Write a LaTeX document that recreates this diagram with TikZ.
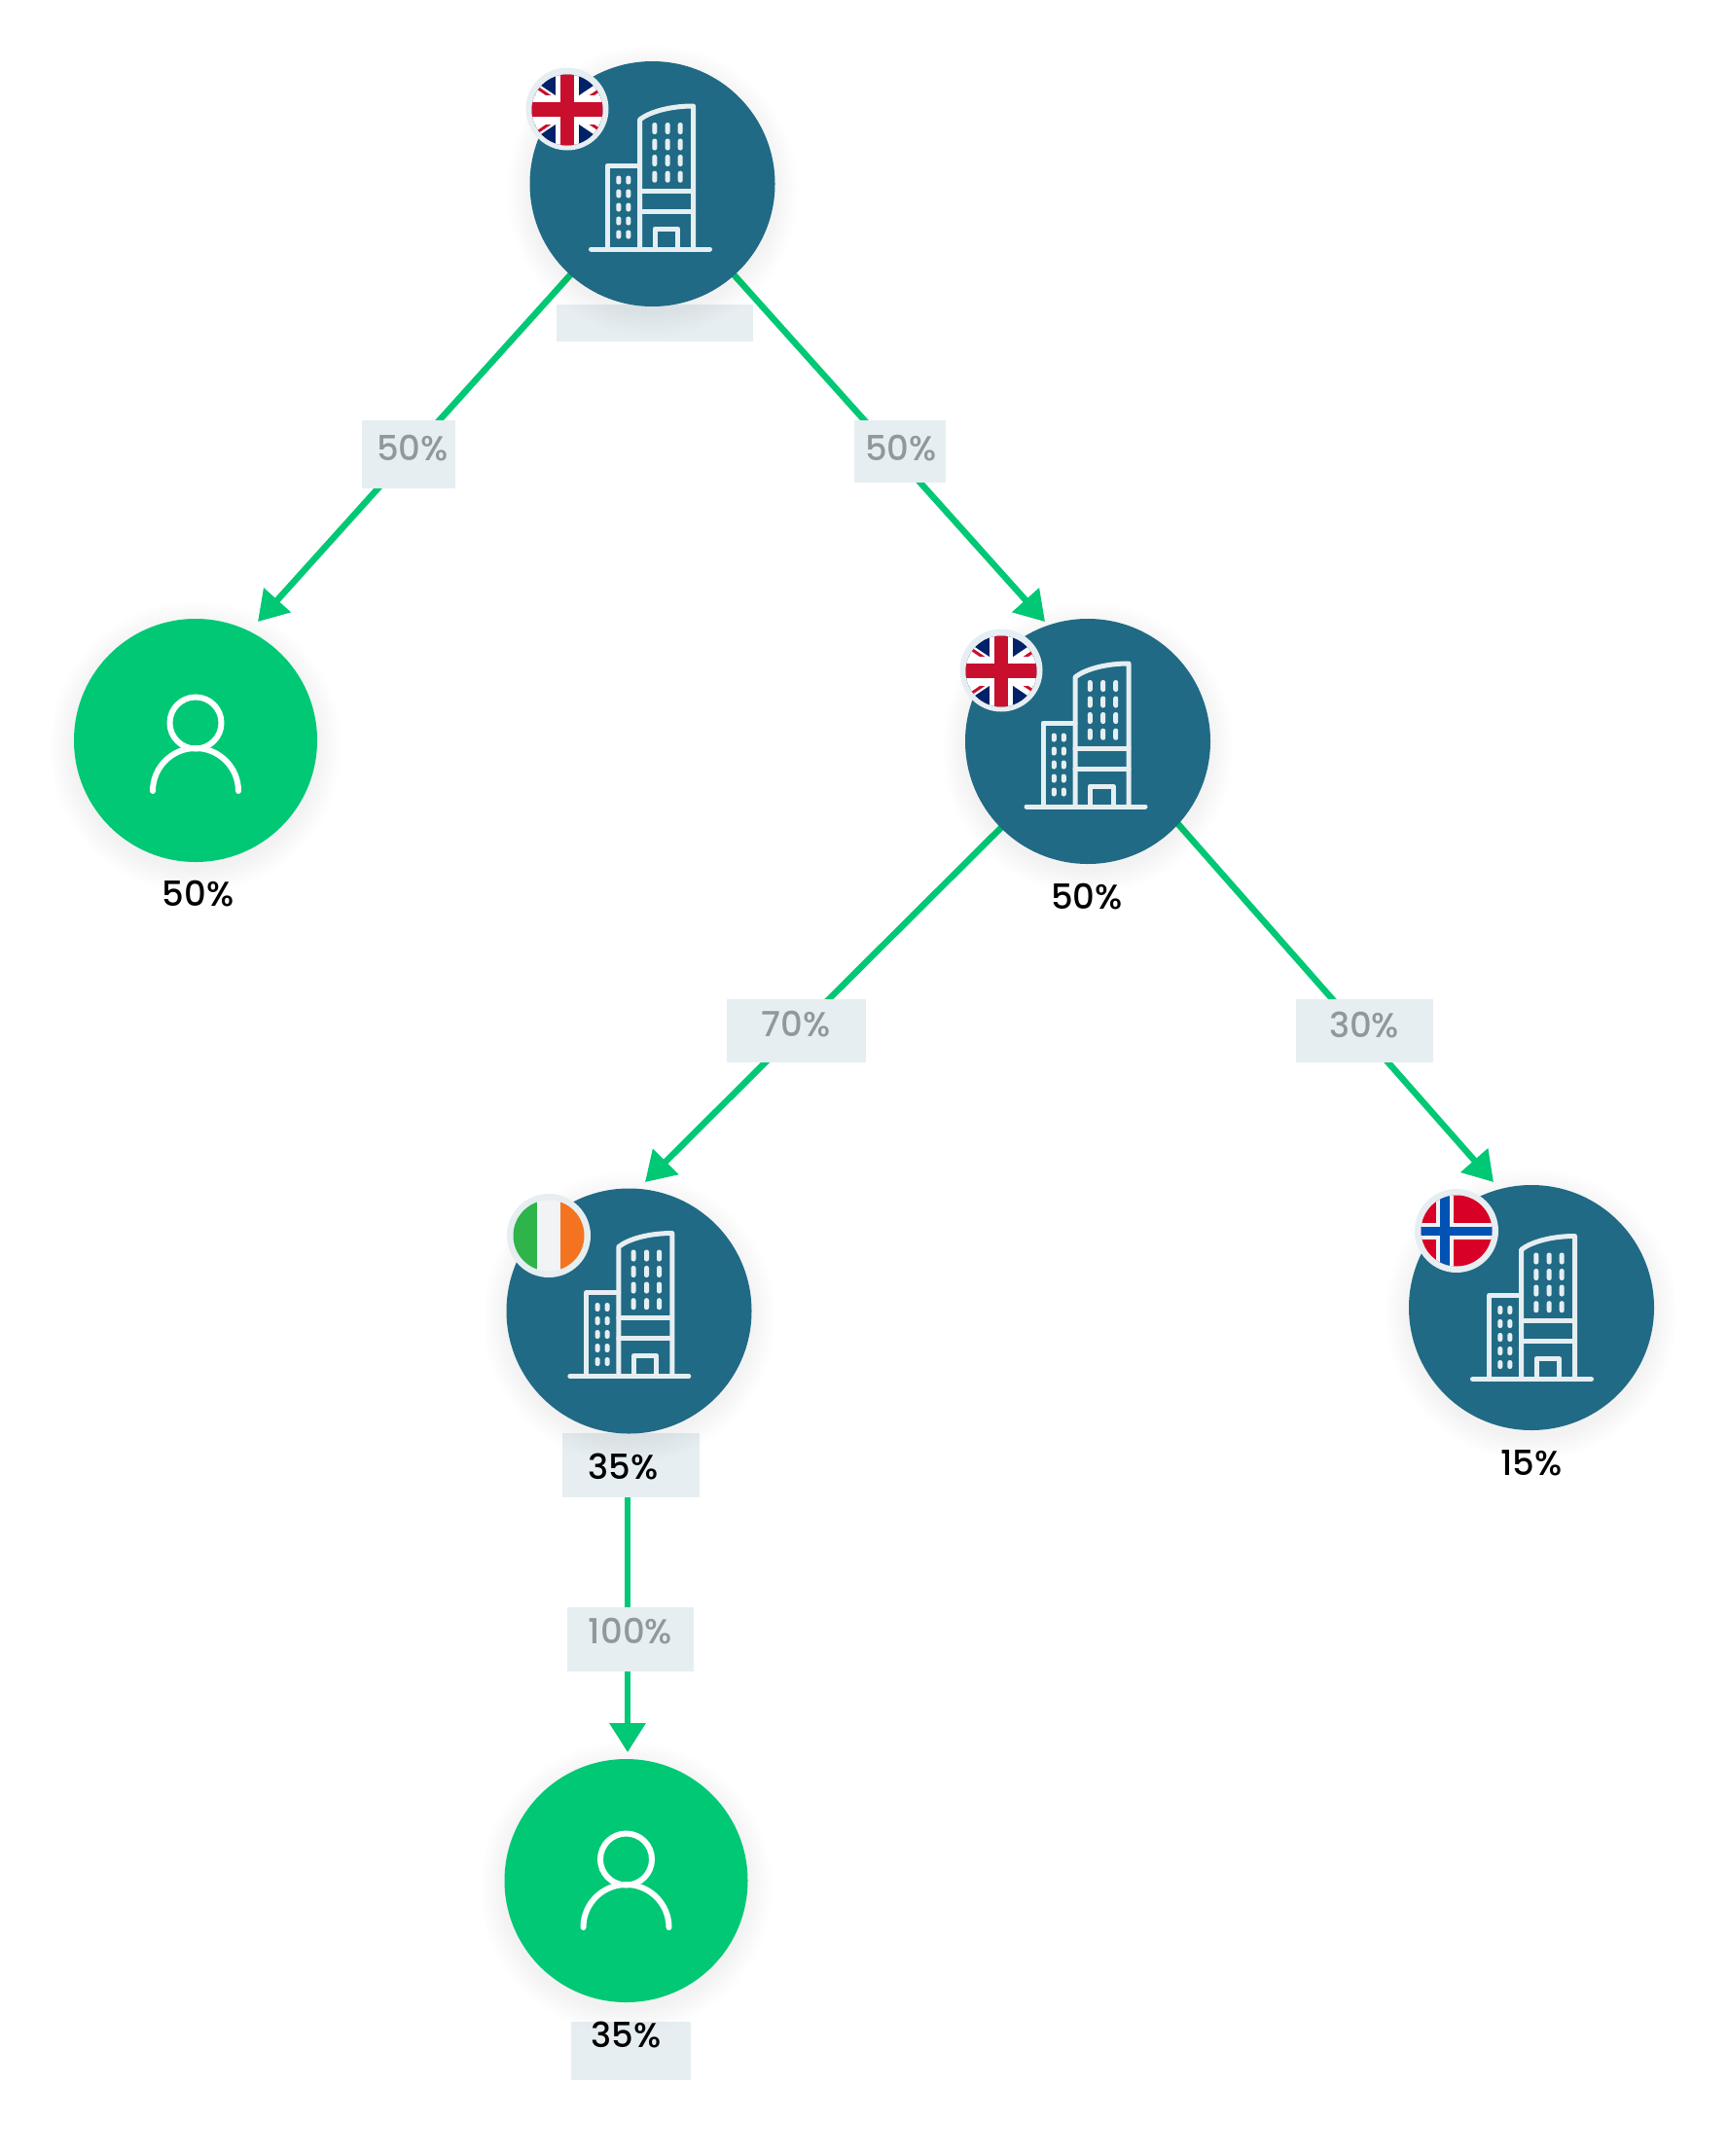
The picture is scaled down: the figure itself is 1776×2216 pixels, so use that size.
\documentclass[tikz,border=0pt]{standalone}
\usepackage{fontspec}
\setmainfont{Poppins}[UprightFont=* Medium]
\usetikzlibrary{arrows.meta}
\definecolor{teal}{HTML}{206A85}
\definecolor{lime}{HTML}{00C875}
\definecolor{pale}{HTML}{E6EEF1}
\definecolor{greytext}{HTML}{8F999D}
\definecolor{ukblue}{HTML}{012169}
\definecolor{ukred}{HTML}{C8102E}
\definecolor{irgreen}{HTML}{2FB44B}
\definecolor{irwhite}{HTML}{F1F3F5}
\definecolor{irorange}{HTML}{F47321}
\definecolor{nored}{HTML}{D80027}
\definecolor{noblue}{HTML}{0052B4}
\pgfdeclarelayer{paper}
\pgfdeclarelayer{conn}
\pgfdeclarelayer{boxes}
\pgfdeclarelayer{shade}
\pgfsetlayers{paper,conn,boxes,shade,main}
\tikzset{
  building/.style={circle,fill=teal,minimum size=252pt,inner sep=0pt},
  owner/.style={circle,fill=lime,minimum size=250pt,inner sep=0pt},
  link/.style={draw=lime,line width=6.5pt,-{Triangle[length=30pt,width=36pt]}},
  labelbox/.style={fill=pale,inner sep=0pt},
  edgetext/.style={text=greytext,font=\fontsize{35.5}{36}\selectfont,inner sep=0pt},
  sharetext/.style={text=black,font=\fontsize{35.5}{36}\selectfont,inner sep=0pt},
  sketch/.style={draw=pale,line width=5pt,line cap=round,line join=round},
  win/.style={fill=pale,rounded corners=2.3pt},
  pics/softshadow/.style={code={
    \foreach \r in {126,128,...,150}{\fill[black,opacity=0.005] (0,7) circle[radius=\r];}
  }},
  pics/tower/.style={code={
    \draw[sketch] (-63,67) -- (59,67);
    \draw[sketch] (-46,67) -- (-46,-19) -- (-13,-19);
    \draw[sketch] (-13,67) -- (-13,-66) .. controls (-3,-74) and (18,-80) .. (42,-80) -- (42,67);
    \draw[sketch] (-13,7) -- (42,7) (-13,28) -- (42,28);
    \draw[sketch] (2.5,67) -- (2.5,46) -- (26,46) -- (26,67);
    \foreach \x in {2.3,15.7,28.7}\foreach \y in {-57,-40.5,-24,-7.3}
      {\fill[win] (\x-2.5,\y-6) rectangle (\x+2.5,\y+6);}
    \foreach \x in {-34.7,-24.7}\foreach \y in {-4,10,24,38,52}
      {\fill[win] (\x-2.5,\y-4.5) rectangle (\x+2.5,\y+4.5);}
  }},
  pics/person/.style={code={
    \draw[white,line width=6pt] (0,-18) circle[radius=26.5];
    \draw[white,line width=6pt,line cap=round] (-44,52) arc[start angle=180,end angle=360,radius=44];
  }},
  pics/ukflag/.style={code={
    \fill[pale] (0,0) circle[radius=42.5];
    \begin{scope}
      \clip (0,1) circle[radius=36.5];
      \fill[ukblue] (-40,-40) rectangle (40,40);
      \draw[white,line width=11pt] (-40,-26) -- (40,28) (-40,28) -- (40,-26);
      \draw[ukred,line width=3pt] (-40,-28) -- (40,26) (-40,30) -- (40,-24);
      \fill[white] (-12,-40) rectangle (12,40);
      \fill[white] (-40,-14) rectangle (40,16);
      \fill[ukred] (-7,-40) rectangle (7,40);
      \fill[ukred] (-40,-7) rectangle (40,8);
    \end{scope}
  }},
  pics/ieflag/.style={code={
    \fill[pale] (0,0) circle[radius=43];
    \begin{scope}
      \clip (0,0) circle[radius=36.5];
      \fill[irgreen] (-40,-40) rectangle (-11.7,40);
      \fill[irwhite] (-11.7,-40) rectangle (12,40);
      \fill[irorange] (12,-40) rectangle (40,40);
    \end{scope}
  }},
  pics/noflag/.style={code={
    \fill[pale] (0,0) circle[radius=43];
    \begin{scope}
      \clip (0,0) circle[radius=36.5];
      \fill[nored] (-40,-40) rectangle (40,40);
      \fill[irwhite] (-20.7,-40) rectangle (-3,40);
      \fill[irwhite] (-40,-7.7) rectangle (40,9);
      \fill[noblue] (-16.7,-40) rectangle (-7,40);
      \fill[noblue] (-40,-4.3) rectangle (40,5);
    \end{scope}
  }}
}
\begin{document}
\begin{tikzpicture}[x=1pt,y=-1pt]
\useasboundingbox (0,0) rectangle (1776,2216);
\begin{pgfonlayer}{paper}
  \fill[white] (0,0) rectangle (1776,2216);
\end{pgfonlayer}

% entities
\node[building] (hq) at (670.5,189) {};
\node[owner] (ownerA) at (201,761) {};
\node[building] (sub) at (1118,762) {};
\node[building] (ie) at (646.5,1347.5) {};
\node[building] (no) at (1574,1344) {};
\node[owner] (ownerB) at (643.5,1933) {};

% shadows
\begin{pgfonlayer}{shade}
  \pic at (hq) {softshadow};
  \pic at (ownerA) {softshadow};
  \pic at (sub) {softshadow};
  \pic at (ie) {softshadow};
  \pic at (no) {softshadow};
  \pic at (ownerB) {softshadow};
\end{pgfonlayer}

% icons
\pic at (hq) {tower};
\pic at (sub) {tower};
\pic at ([xshift=2.3pt]ie.center) {tower};
\pic at ([xshift=2.5pt,yshift=-6.5pt]no.center) {tower};
\pic at (ownerA) {person};
\pic at ([yshift=4pt]ownerB.center) {person};

% flags
\pic at (583,112) {ukflag};
\pic at (1029,689) {ukflag};
\pic at (564,1270) {ieflag};
\pic at (1497,1265) {noflag};

% arrow tips
\coordinate (tipA) at (265,639);
\coordinate (tipB) at (1074,639);
\coordinate (tipC) at (663,1215);
\coordinate (tipD) at (1535,1215);
\coordinate (tipE) at (645,1801);

\begin{pgfonlayer}{conn}
  \draw[link] (hq.center) -- (tipA);
  \draw[link] (hq.center) -- (tipB);
  \draw[link] (sub.center) -- (tipC);
  \draw[link] ([xshift=18pt]sub.center) -- (tipD);
  \draw[link] (ie.center -| tipE) -- (tipE);
\end{pgfonlayer}

% label boxes
\begin{pgfonlayer}{boxes}
  \node[labelbox,minimum width=202pt,minimum height=38pt] (boxHq) at (673,332) {};
  \node[labelbox,minimum width=96pt,minimum height=70pt] (boxL) at (420,467) {};
  \node[labelbox,minimum width=94pt,minimum height=64pt] (boxR) at (925,464) {};
  \node[labelbox,minimum width=143pt,minimum height=65pt] (boxS) at (818,1059.5) {};
  \node[labelbox,minimum width=141pt,minimum height=65pt] (boxN) at (1402,1059.5) {};
  \node[labelbox,minimum width=141pt,minimum height=66pt] (boxI) at (648,1506) {};
  \node[labelbox,minimum width=130pt,minimum height=66pt] (boxO) at (648,1685) {};
  \node[labelbox,minimum width=123pt,minimum height=60pt] (boxB) at (648,2108) {};
\end{pgfonlayer}

% texts
\node[edgetext] (t1) at (424,461) {50\%};
\node[edgetext] (t2) at (926,461) {50\%};
\node[edgetext] (t3) at (818,1053) {70\%};
\node[edgetext] (t4) at (1402,1053) {30\%};
\node[edgetext] (t5) at (648,1677) {100\%};
\node[sharetext] (s1) at (203.5,919) {50\%};
\node[sharetext] (s2) at (1117,922) {50\%};
\node[sharetext] (s3) at (640.5,1507) {35\%};
\node[sharetext] (s4) at (1574,1504) {15\%};
\node[sharetext] (s5) at (643.5,2091) {35\%};
\end{tikzpicture}
\end{document}
